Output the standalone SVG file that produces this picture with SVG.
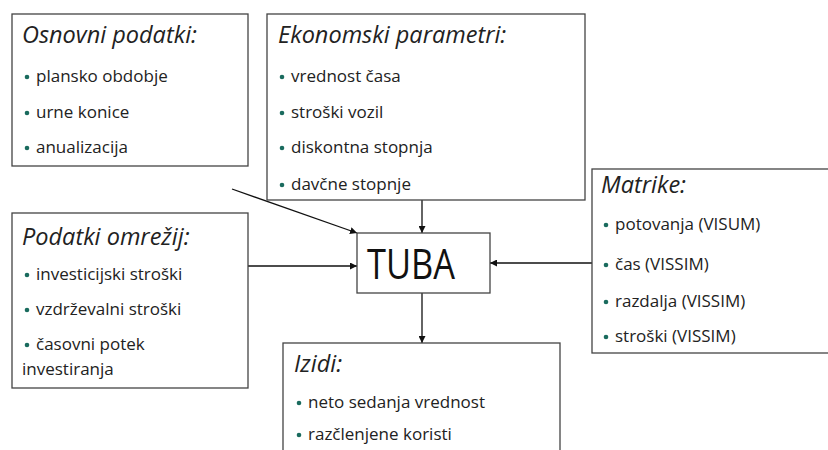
<svg xmlns="http://www.w3.org/2000/svg" width="828" height="450" viewBox="0 0 828 450">
<defs>
<marker id="arr" viewBox="0 0 10 10" refX="10" refY="5" markerWidth="7" markerHeight="7" markerUnits="userSpaceOnUse" orient="auto">
<path d="M0,0 L10,5 L0,10 z" fill="#111"/>
</marker>
</defs>
<style>
.box{fill:#fff;stroke:#444;stroke-width:1.3}
.t{font-family:"Open Sans",Lato,sans-serif;font-style:italic;font-size:23.5px;fill:#222}
.i{font-family:"Open Sans",Lato,sans-serif;font-size:17px;fill:#222}
.b{fill:#1a6b5e}
.c{stroke:#111;stroke-width:1.3;fill:none}
</style>
<rect width="828" height="450" fill="#fff"/>
<g id="connectors">
<line class="c" x1="422" y1="200" x2="422" y2="233" marker-end="url(#arr)"/>
<line class="c" x1="232" y1="189" x2="357" y2="233" marker-end="url(#arr)"/>
<line class="c" x1="248" y1="266" x2="357" y2="266" marker-end="url(#arr)"/>
<line class="c" x1="592" y1="263" x2="490" y2="263" marker-end="url(#arr)"/>
<line class="c" x1="422" y1="293" x2="422" y2="343" marker-end="url(#arr)"/>
</g>
<g id="osnovni">
<rect class="box" x="12" y="14" width="236" height="152"/>
<text class="t" x="22" y="43">Osnovni podatki:</text>
<circle class="b" cx="27" cy="77" r="2.3"/><text class="i" x="36" y="82">plansko obdobje</text>
<circle class="b" cx="27" cy="113" r="2.3"/><text class="i" x="36" y="118">urne konice</text>
<circle class="b" cx="27" cy="148" r="2.3"/><text class="i" x="36" y="153">anualizacija</text>
</g>
<g id="ekonomski">
<rect class="box" x="267" y="14" width="318" height="186"/>
<text class="t" x="278" y="43">Ekonomski parametri:</text>
<circle class="b" cx="282" cy="77" r="2.3"/><text class="i" x="291" y="82">vrednost časa</text>
<circle class="b" cx="282" cy="113" r="2.3"/><text class="i" x="291" y="118">stroški vozil</text>
<circle class="b" cx="282" cy="148" r="2.3"/><text class="i" x="291" y="153">diskontna stopnja</text>
<circle class="b" cx="282" cy="185" r="2.3"/><text class="i" x="291" y="190">davčne stopnje</text>
</g>
<g id="tuba">
<rect class="box" x="357" y="233" width="133" height="60"/>
<text x="367" y="279" textLength="88" lengthAdjust="spacingAndGlyphs" style="font-family:'Open Sans',Lato,sans-serif;font-size:42px;fill:#111">TUBA</text>
</g>
<g id="matrike">
<rect class="box" x="592" y="169" width="240" height="184"/>
<text class="t" x="601" y="193">Matrike:</text>
<circle class="b" cx="606" cy="225" r="2.3"/><text class="i" x="615" y="230">potovanja (VISUM)</text>
<circle class="b" cx="606" cy="265" r="2.3"/><text class="i" x="615" y="270">čas (VISSIM)</text>
<circle class="b" cx="606" cy="302" r="2.3"/><text class="i" x="615" y="307">razdalja (VISSIM)</text>
<circle class="b" cx="606" cy="337" r="2.3"/><text class="i" x="615" y="342">stroški (VISSIM)</text>
</g>
<g id="omrezij">
<rect class="box" x="12" y="213" width="236" height="175"/>
<text class="t" x="22" y="245">Podatki omrežij:</text>
<circle class="b" cx="27" cy="275" r="2.3"/><text class="i" x="36" y="280">investicijski stroški</text>
<circle class="b" cx="27" cy="310" r="2.3"/><text class="i" x="36" y="315">vzdrževalni stroški</text>
<circle class="b" cx="27" cy="345" r="2.3"/><text class="i" x="36" y="350">časovni potek</text>
<text class="i" x="22" y="375">investiranja</text>
</g>
<g id="izidi">
<rect class="box" x="283" y="343" width="277" height="120"/>
<text class="t" x="294" y="372">Izidi:</text>
<circle class="b" cx="299" cy="403" r="2.3"/><text class="i" x="308" y="408">neto sedanja vrednost</text>
<circle class="b" cx="299" cy="435" r="2.3"/><text class="i" x="308" y="440">razčlenjene koristi</text>
</g>
</svg>
